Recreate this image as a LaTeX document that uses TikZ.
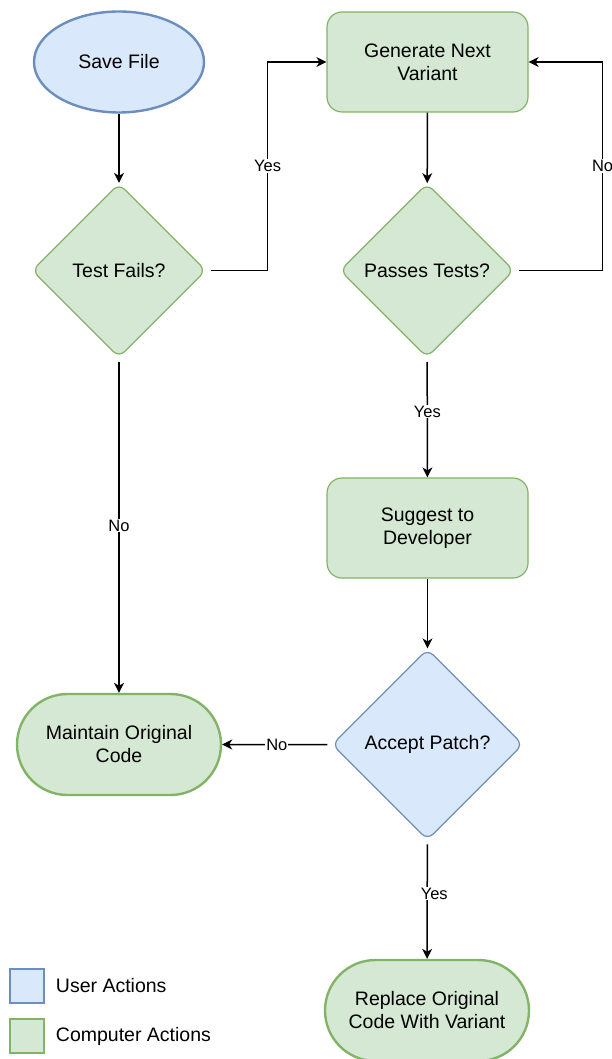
\documentclass[tikz,border=0pt]{standalone}
\usepackage{fontspec}
\setmainfont{Liberation Sans}
\usetikzlibrary{shapes.geometric,shapes.misc,arrows.meta,positioning}

\definecolor{userfill}{HTML}{DAE8FC}
\definecolor{userline}{HTML}{6C8EBF}
\definecolor{compfill}{HTML}{D5E8D4}
\definecolor{compline}{HTML}{82B366}

\begin{document}
\begin{tikzpicture}[
        x=1pt, y=-1pt,
        bluen/.style={fill=userfill, draw=userline},
        greenn/.style={fill=compfill, draw=compline},
        every node/.style={text centered, align=center, inner sep=0pt, font=\fontsize{19.5}{23}\selectfont},
        startn/.style={ellipse, minimum width=170pt, minimum height=101pt, line width=2.4pt},
        process/.style={rectangle, rounded corners=15pt, minimum width=201pt, minimum height=100pt, line width=1.2pt},
        decision/.style={diamond, rounded corners=8pt, minimum width=174pt, minimum height=174pt, line width=1.2pt},
        terminal/.style={rounded rectangle, minimum width=204pt, minimum height=101pt, line width=2.4pt},
        keybox/.style={rectangle, minimum size=34pt, line width=1.5pt},
        keytext/.style={font=\fontsize{19.5}{23}\selectfont},
        lbl/.style={fill=white, inner sep=1pt, font=\fontsize{16.5}{20}\selectfont},
        conn/.style={draw, line width=1.5pt, -{Stealth[length=10pt, width=10pt, inset=3pt]}},
        fromdec/.style={conn, shorten <=4pt},
    ]
    \useasboundingbox (0,0) rectangle (611,1059);

    % steps of the flow
    \node[startn, bluen](save) at (119,62) {Save File};
    \node[process, greenn](gen) at (427.5,62) {Generate Next\\Variant};
    \node[decision, greenn](fails) at (119,270.5) {Test Fails?};
    \node[decision, greenn](passes) at (427,270.5) {Passes Tests?};
    \node[process, greenn](suggest) at (427.5,528) {Suggest to\\Developer};
    \node[decision, bluen, minimum width=191pt, minimum height=191pt](accept) at (427.5,744.5) {Accept Patch?};
    \node[terminal, greenn](maintain) at (119,744.5) {Maintain Original\\Code};
    \node[terminal, greenn](replace) at (427,1010.5) {Replace Original\\Code With Variant};

    % connectors
    \draw[conn] (save) -- (fails);
    \draw[fromdec] (fails.east) -- ++(61,0) |- node[lbl, pos=0.25]{Yes} (gen.west);
    \draw[conn] (gen) -- (passes);
    \draw[fromdec] (passes.east) -- ++(88,0) |- node[lbl, pos=0.25]{No} (gen.east);
    \draw[fromdec] (passes) -- node[lbl, pos=0.45]{Yes} (suggest);
    \draw[conn] (suggest) -- (accept);
    \draw[fromdec] (fails) -- node[lbl]{No} (maintain);
    \draw[fromdec] (accept) -- node[lbl]{No} (maintain);
    \draw[fromdec] (accept) -- node[lbl, pos=0.45, xshift=7pt]{Yes} (replace);

    % legend
    \node[keybox, bluen](userkey) at (27,986) {};
    \node[keytext, right=11pt of userkey](usertext) {User Actions};
    \node[keybox, greenn](compkey) at (27,1036) {};
    \node[keytext, right=11pt of compkey](comptext) {Computer Actions};
\end{tikzpicture}
\end{document}
